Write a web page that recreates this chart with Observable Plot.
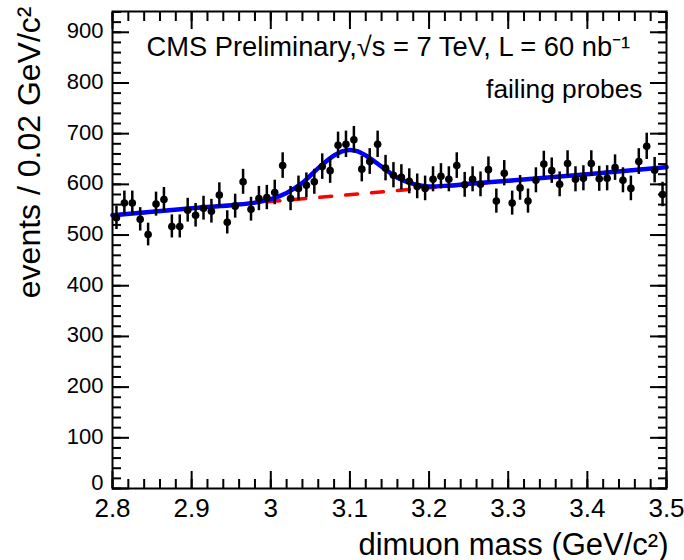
<!DOCTYPE html>
<html>
<head>
<meta charset="utf-8">
<script src="https://cdn.jsdelivr.net/npm/d3@7"></script>
<script src="https://cdn.jsdelivr.net/npm/@observablehq/plot@0.6"></script>
<style>
  html, body { margin: 0; padding: 0; background: #fff; }
  #chart svg { display: block; }
</style>
</head>
<body>
<div id="chart"></div>
<script>
// Dimuon invariant-mass spectrum for failing probes, 0.01 GeV/c² bins
const massBins = [
  2.805, 2.815, 2.825, 2.835, 2.845, 2.855, 2.865, 2.875, 2.885, 2.895,
  2.905, 2.915, 2.925, 2.935, 2.945, 2.955, 2.965, 2.975, 2.985, 2.995,
  3.005, 3.015, 3.025, 3.035, 3.045, 3.055, 3.065, 3.075, 3.085, 3.095,
  3.105, 3.115, 3.125, 3.135, 3.145, 3.155, 3.165, 3.175, 3.185, 3.195,
  3.205, 3.215, 3.225, 3.235, 3.245, 3.255, 3.265, 3.275, 3.285, 3.295,
  3.305, 3.315, 3.325, 3.335, 3.345, 3.355, 3.365, 3.375, 3.385, 3.395,
  3.405, 3.415, 3.425, 3.435, 3.445, 3.455, 3.465, 3.475, 3.485, 3.495
];
const counts = [
  534, 563, 563, 531, 501, 561, 570, 517, 517, 549,
  539, 553, 547, 579, 525, 557, 605, 551, 572, 574,
  584, 637, 572, 592, 598, 605, 635, 627, 677, 679,
  688, 630, 645, 679, 632, 618, 614, 606, 596, 592,
  610, 616, 610, 637, 599, 610, 600, 629, 567, 622,
  563, 593, 567, 608, 640, 627, 600, 641, 610, 612,
  641, 611, 612, 633, 608, 592, 645, 675, 628, 580
];

// Fitted signal + background (solid) and background only (dashed)
const fitMass = [2.80, 2.90, 2.95, 2.98, 3.00, 3.02, 3.04, 3.06, 3.08, 3.09,
                 3.10, 3.11, 3.12, 3.14, 3.16, 3.18, 3.20, 3.22, 3.25, 3.30, 3.40, 3.50];
const fitTotal = [539, 553, 559, 564, 571, 583, 603, 632, 657, 665,
                  668, 665, 657, 635, 613, 601, 596, 597, 601, 607, 620, 634];
const bkgMass = [2.80, 3.50];
const bkgValue = [539, 634];

// Axis ticks
const xMajor = [2.8, 2.9, 3, 3.1, 3.2, 3.3, 3.4, 3.5];
const yMajor = [0, 100, 200, 300, 400, 500, 600, 700, 800, 900];
const xMinor = d3.range(0, 36).map(i => +(2.8 + i * 0.02).toFixed(2));
const yMinor = d3.range(0, 48).map(i => i * 20);

const points = massBins.map((m, i) => ({mass: m, n: counts[i], err: Math.sqrt(counts[i])}));
const fitLine = fitMass.map((m, i) => ({mass: m, n: fitTotal[i]}));
const bkgLine = bkgMass.map((m, i) => ({mass: m, n: bkgValue[i]}));

const font = "'Liberation Sans', Arial, Helvetica, sans-serif";
const fmt = d => `${d}`;
const noLabel = () => "";

const chart = Plot.plot({
  width: 684,
  height: 560,
  marginLeft: 112,
  marginRight: 18,
  marginTop: 11,
  marginBottom: 72,
  style: {fontFamily: font, color: "black", background: "white"},
  x: {domain: [2.8, 3.5], axis: null},
  y: {domain: [0, 941], axis: null},
  marks: [
    // inward ticks on all four sides
    Plot.axisX(xMajor, {anchor: "bottom", tickSize: -17, strokeWidth: 2, tickFormat: noLabel, label: null}),
    Plot.axisX(xMinor, {anchor: "bottom", tickSize: -9, strokeWidth: 2, tickFormat: noLabel, label: null}),
    Plot.axisX(xMajor, {anchor: "top", tickSize: -17, strokeWidth: 2, tickFormat: noLabel, label: null}),
    Plot.axisX(xMinor, {anchor: "top", tickSize: -9, strokeWidth: 2, tickFormat: noLabel, label: null}),
    Plot.axisY(yMajor, {anchor: "left", tickSize: -17, strokeWidth: 2, tickFormat: noLabel, label: null}),
    Plot.axisY(yMinor, {anchor: "left", tickSize: -9, strokeWidth: 2, tickFormat: noLabel, label: null}),
    Plot.axisY(yMajor, {anchor: "right", tickSize: -17, strokeWidth: 2, tickFormat: noLabel, label: null}),
    Plot.axisY(yMinor, {anchor: "right", tickSize: -9, strokeWidth: 2, tickFormat: noLabel, label: null}),
    // tick labels (the zero label sits a little higher, clear of the 2.8 label)
    Plot.axisX(xMajor, {anchor: "bottom", tickSize: 0, tickPadding: 10, fontSize: 26, tickFormat: fmt, label: null}),
    Plot.axisY(yMajor.slice(1), {anchor: "left", tickSize: 0, tickPadding: 9, fontSize: 22, tickFormat: fmt, label: null, dy: -1}),
    Plot.axisY(yMajor.slice(0, 1), {anchor: "left", tickSize: 0, tickPadding: 9, fontSize: 22, tickFormat: fmt, label: null, dy: -6}),
    // background-only fit
    Plot.line(bkgLine, {x: "mass", y: "n", stroke: "#ff0000", strokeWidth: 3.5, strokeDasharray: "12,14"}),
    // signal + background fit
    Plot.line(fitLine, {x: "mass", y: "n", stroke: "#0000ff", strokeWidth: 4.5, curve: "monotone-x"}),
    // data with statistical error bars
    Plot.ruleX(points, {x: "mass", y1: d => d.n - d.err, y2: d => d.n + d.err, stroke: "black", strokeWidth: 2.5}),
    Plot.dot(points, {x: "mass", y: "n", r: 3.8, fill: "black", stroke: null}),
    Plot.frame({stroke: "black", strokeWidth: 2}),
    // annotations
    Plot.text(["CMS Preliminary,√s = 7 TeV, L = 60 nb⁻¹"], {
      frameAnchor: "top-left", textAnchor: "start", lineAnchor: "bottom",
      dx: 34, dy: 44, fontSize: 27.3, fill: "black"
    }),
    Plot.text(["failing probes"], {
      frameAnchor: "top-right", textAnchor: "end", lineAnchor: "bottom",
      dx: -24, dy: 86, fontSize: 26.3, fill: "black"
    }),
    // axis titles
    Plot.text(["dimuon mass (GeV/c²)"], {
      frameAnchor: "bottom-right", textAnchor: "end", lineAnchor: "bottom",
      dx: 2, dy: 66, fontSize: 31, fill: "black"
    }),
    Plot.text(["events / 0.02 GeV/c²"], {
      frameAnchor: "top-left", textAnchor: "end", lineAnchor: "bottom",
      rotate: -90, dx: -73, dy: -5, fontSize: 32, fill: "black"
    })
  ]
});

document.getElementById("chart").appendChild(chart);
</script>
</body>
</html>
